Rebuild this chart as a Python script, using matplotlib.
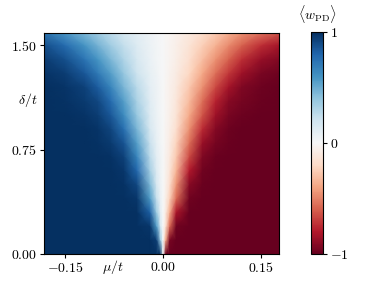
import numpy as np
import matplotlib
matplotlib.use("Agg")
import matplotlib.pyplot as plt

plt.rcParams['font.family'] = 'serif'
plt.rcParams['font.serif'] = ['cmr10']
plt.rcParams['mathtext.fontset'] = 'cm'
plt.rcParams['axes.formatter.use_mathtext'] = True
plt.rcParams['font.size'] = 10

# chemical potential mu/t (columns) and detuning delta/t (rows)
mu = [-0.18, -0.15, -0.12, -0.10, -0.08, -0.06, -0.04, -0.02, -0.01, -0.004, 0.0,
      0.004, 0.01, 0.02, 0.04, 0.06, 0.08, 0.10, 0.12, 0.15, 0.18]
delta = [0.0, 0.1, 0.2, 0.3, 0.4, 0.5, 0.6, 0.7, 0.8, 0.9, 1.0, 1.1, 1.2, 1.3, 1.4, 1.5, 1.6]

# <w_PD>, one row per delta
w_pd = [
    [1, 1, 1, 1, 1, 1, 1, 1, 1, 1, 0, -1, -1, -1, -1, -1, -1, -1, -1, -1, -1],
    [1, 1, 1, 1, 1, 1, 1, 1, 0.95, 0.38, 0, -0.38, -0.95, -1, -1, -1, -1, -1, -1, -1, -1],
    [1, 1, 1, 1, 1, 1, 1, 0.97, 0.57, 0.16, 0, -0.16, -0.57, -0.97, -1, -1, -1, -1, -1, -1, -1],
    [1, 1, 1, 1, 1, 1, 1, 0.82, 0.36, 0.10, 0, -0.10, -0.36, -0.82, -1, -1, -1, -1, -1, -1, -1],
    [1, 1, 1, 1, 1, 1, 0.97, 0.57, 0.23, 0.07, 0, -0.07, -0.23, -0.57, -0.97, -1, -1, -1, -1, -1, -1],
    [1, 1, 1, 1, 1, 0.99, 0.91, 0.45, 0.17, 0.05, 0, -0.05, -0.17, -0.45, -0.91, -0.99, -1, -1, -1, -1, -1],
    [1, 1, 1, 1, 1, 0.97, 0.79, 0.34, 0.13, 0.04, 0, -0.04, -0.13, -0.34, -0.79, -0.97, -1, -1, -1, -1, -1],
    [1, 1, 1, 1, 0.99, 0.93, 0.66, 0.27, 0.10, 0.04, 0, -0.04, -0.10, -0.27, -0.66, -0.93, -0.99, -1, -1, -1, -1],
    [1, 1, 1, 0.99, 0.96, 0.86, 0.55, 0.22, 0.08, 0.03, 0, -0.03, -0.08, -0.22, -0.55, -0.86, -0.96, -0.99, -1, -1, -1],
    [1, 1, 1, 0.98, 0.92, 0.75, 0.46, 0.17, 0.07, 0.03, 0, -0.03, -0.07, -0.17, -0.46, -0.75, -0.92, -0.98, -1, -1, -1],
    [1, 1, 0.98, 0.95, 0.85, 0.63, 0.38, 0.14, 0.06, 0.02, 0, -0.02, -0.06, -0.14, -0.38, -0.63, -0.85, -0.95, -0.98, -1, -1],
    [1, 0.99, 0.96, 0.91, 0.77, 0.55, 0.32, 0.12, 0.05, 0.02, 0, -0.02, -0.05, -0.12, -0.32, -0.55, -0.77, -0.91, -0.96, -0.99, -1],
    [1, 0.98, 0.93, 0.83, 0.66, 0.46, 0.27, 0.10, 0.05, 0.02, 0, -0.02, -0.05, -0.10, -0.27, -0.46, -0.66, -0.83, -0.93, -0.98, -1],
    [0.98, 0.95, 0.85, 0.71, 0.55, 0.38, 0.21, 0.08, 0.04, 0.01, 0, -0.01, -0.04, -0.08, -0.21, -0.38, -0.55, -0.71, -0.85, -0.95, -0.98],
    [0.95, 0.88, 0.73, 0.59, 0.45, 0.30, 0.17, 0.07, 0.03, 0.01, 0, -0.01, -0.03, -0.07, -0.17, -0.30, -0.45, -0.59, -0.73, -0.87, -0.93],
    [0.88, 0.77, 0.59, 0.47, 0.35, 0.24, 0.14, 0.06, 0.03, 0.01, 0, -0.01, -0.03, -0.06, -0.14, -0.24, -0.35, -0.47, -0.59, -0.74, -0.84],
    [0.71, 0.57, 0.43, 0.34, 0.25, 0.16, 0.10, 0.05, 0.02, 0.01, 0, -0.01, -0.02, -0.05, -0.10, -0.16, -0.25, -0.34, -0.43, -0.52, -0.62],
]

xticks = [-0.15, 0.0, 0.15]
xtick_labels = [r'$-0.15$', r'$0.00$', r'$0.15$']
yticks = [0.0, 0.75, 1.5]
ytick_labels = [r'$0.00$', r'$0.75$', r'$1.50$']
cticks = [-1, 0, 1]
ctick_labels = [r'$-1$', r'$0$', r'$1$']

fig = plt.figure(figsize=(3.74, 2.88), dpi=100)
ax = fig.add_axes([0.1176, 0.118, 0.6284, 0.767])
cax = fig.add_axes([0.8316, 0.118, 0.032, 0.771])

M, D = np.meshgrid(mu, delta)
mesh = ax.pcolormesh(M, D, np.array(w_pd), cmap='RdBu', vmin=-1, vmax=1, shading='gouraud', rasterized=True)
ax.set_xlim(-0.182, 0.177)
ax.set_ylim(0, 1.586)
ax.set_xticks(xticks)
ax.set_xticklabels(xtick_labels)
ax.set_yticks(yticks)
ax.set_yticklabels(ytick_labels)
ax.tick_params(direction='out', length=3, width=0.8, pad=2)

ax.set_xlabel(r'$\mu/t$')
ax.xaxis.set_label_coords(0.294, -0.06)
ax.xaxis.label.set_va('center')
ax.set_ylabel(r'$\delta/t$', rotation=0)
ax.yaxis.set_label_coords(-0.07, 0.697)
ax.yaxis.label.set_va('center')

cb = fig.colorbar(mesh, cax=cax)
cb.set_ticks(cticks)
cb.set_ticklabels(ctick_labels)
cb.ax.tick_params(length=3, width=0.8, pad=2)
cb.outline.set_linewidth(0.8)
cax.set_title(r'$\langle w_{\rm PD}\rangle$', fontsize=10, pad=9)

fig.savefig('out.png', dpi=100)
